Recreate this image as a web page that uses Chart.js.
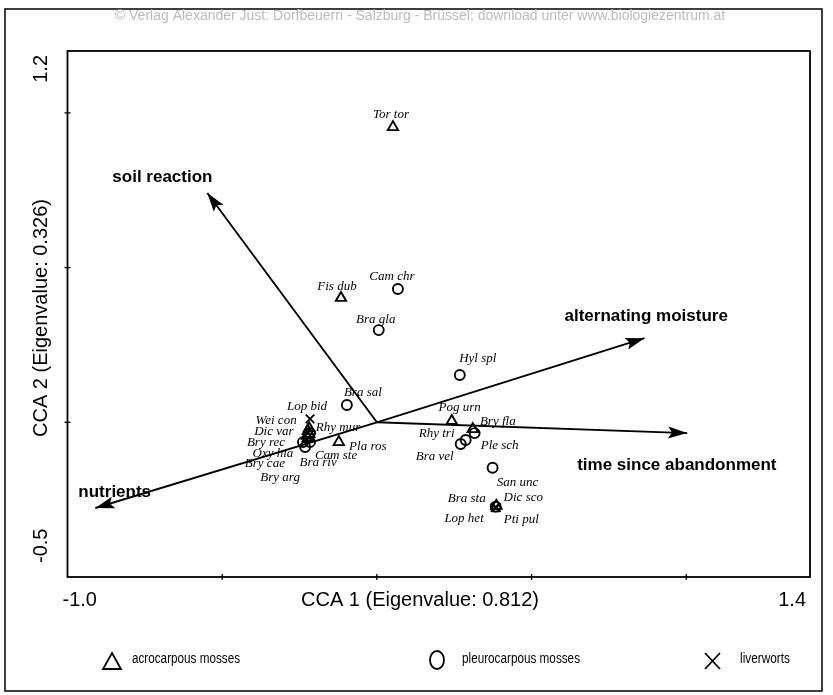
<!DOCTYPE html>
<html>
<head>
<meta charset="utf-8">
<script src="https://cdn.jsdelivr.net/npm/chart.js@4.4.1/dist/chart.umd.min.js"></script>
<style>
  html, body { margin: 0; padding: 0; background: #fff; }
  #wrap { width: 833px; height: 695px; position: relative; }
</style>
</head>
<body>
<div id="wrap"><canvas id="cca"></canvas></div>
<script>
// Species scores on CCA axes 1 and 2, by growth form
const acroNames = ['Tor tor', 'Fis dub', 'Pog urn', 'Bry fla', 'Dic sco', 'Wei con', 'Dic var', 'Bry rec', 'Bry cae', 'Bry arg', 'Pla ros'];
const acroX = [0.052, -0.116, 0.242, 0.310, 0.386, -0.219, -0.223, -0.226, -0.223, -0.219, -0.123];
const acroY = [0.954, 0.402, 0.004, -0.022, -0.270, -0.019, -0.028, -0.044, -0.051, -0.038, -0.064];

const pleuroNames = ['Cam chr', 'Bra gla', 'Bra sal', 'Hyl spl', 'Ple sch', 'Rhy tri', 'Bra vel', 'San unc', 'Bra sta', 'Rhy mur', 'Oxy hia', 'Cam ste', 'Bra riv'];
const pleuroX = [0.068, 0.006, -0.097, 0.268, 0.316, 0.287, 0.271, 0.374, 0.384, -0.216, -0.239, -0.216, -0.232];
const pleuroY = [0.431, 0.298, 0.056, 0.153, -0.035, -0.057, -0.070, -0.147, -0.273, -0.035, -0.064, -0.064, -0.080];

const liverNames = ['Lop bid', 'Lop het', 'Pti pul'];
const liverX = [-0.216, 0.382, 0.386];
const liverY = [0.011, -0.276, -0.276];

// Environmental variables (biplot arrows)
const envNames = ['soil reaction', 'alternating moisture', 'time since abandonment', 'nutrients'];
const envX = [-0.548, 0.865, 1.003, -0.910];
const envY = [0.741, 0.272, -0.035, -0.277];

// Axis extents and ticks
const xRange = [-1.0, 1.4];
const yRange = [-0.5, 1.2];
const xTicks = [-0.5, 0.0, 0.5, 1.0];
const yTicks = [0.0, 0.5, 1.0];
const xTickLabels = ['-1.0', '1.4'];
const yTickLabels = ['-0.5', '1.2'];
const xTitle = 'CCA 1 (Eigenvalue: 0.812)';
const yTitle = 'CCA 2 (Eigenvalue: 0.326)';
const legendLabels = ['acrocarpous mosses', 'pleurocarpous mosses', 'liverworts'];
const credit = '\u00A9 Verlag Alexander Just: Dorfbeuern - Salzburg - Br\u00FCssel; download unter www.biologiezentrum.at';

// Label placement (pixel offsets from each point; arrow names are left-aligned from the tip)
const labelOffset = {
  'Tor tor': [-2, -13], 'Fis dub': [-4, -11], 'Cam chr': [-6, -12], 'Bra gla': [-3, -11],
  'Bra sal': [16, -12], 'Hyl spl': [18, -16], 'Pog urn': [8, -13], 'Bry fla': [25, -8],
  'Ple sch': [25, 12], 'Rhy tri': [-29, -6], 'Bra vel': [-26, 13], 'San unc': [25, 15],
  'Bra sta': [-29, -8], 'Dic sco': [27, -8], 'Lop het': [-31, 11], 'Pti pul': [25, 12],
  'Lop bid': [-3, -12], 'Wei con': [-33, -8], 'Rhy mur': [28, -6], 'Dic var': [-34, 1],
  'Bry rec': [-41, 7], 'Oxy hia': [-30, 11], 'Bry cae': [-43, 26], 'Bry arg': [-29, 44],
  'Cam ste': [26, 13], 'Bra riv': [13, 16], 'Pla ros': [29, 4]
};
const envOffset = {
  'soil reaction': [-95, -16], 'alternating moisture': [-80, -22],
  'time since abandonment': [-110, 32], 'nutrients': [-17, -16]
};

const pts = (names, xs, ys) => names.map((n, i) => ({ x: xs[i], y: ys[i], name: n }));

const arrowSets = envNames.map((n, i) => ({
  type: 'line',
  label: n,
  data: [{ x: 0, y: 0 }, { x: envX[i], y: envY[i], name: n }],
  showLine: true,
  borderColor: '#000',
  borderWidth: 1.9,
  pointRadius: 0,
  fill: false,
  order: 5
}));

const markerCommon = { borderColor: '#000', backgroundColor: 'rgba(0,0,0,0)', borderWidth: 1.9 };

// Axis box, ticks, tick labels, titles, text labels, arrowheads and legend
const decor = {
  id: 'decor',
  afterDatasetsDraw(chart) {
    const { ctx, chartArea: a, scales: { x, y } } = chart;
    ctx.save();

    // outer frame
    ctx.strokeStyle = '#000';
    ctx.lineWidth = 1.5;
    ctx.strokeRect(5, 9, 817, 682);

    // credit line
    ctx.fillStyle = '#bcbcbc';
    ctx.font = '14px "Liberation Sans", Arial, sans-serif';
    ctx.textAlign = 'center';
    ctx.textBaseline = 'middle';
    ctx.fillText(credit, 420, 16);

    // axis box
    ctx.strokeStyle = '#000';
    ctx.lineWidth = 1.8;
    ctx.strokeRect(a.left, a.top, a.right - a.left, a.bottom - a.top);

    // ticks crossing the axes
    ctx.lineWidth = 1.3;
    xTicks.forEach(v => {
      const px = x.getPixelForValue(v);
      ctx.beginPath(); ctx.moveTo(px, a.bottom - 3); ctx.lineTo(px, a.bottom + 3); ctx.stroke();
    });
    yTicks.forEach(v => {
      const py = y.getPixelForValue(v);
      ctx.beginPath(); ctx.moveTo(a.left - 3, py); ctx.lineTo(a.left + 3, py); ctx.stroke();
    });

    // tick labels at the axis ends
    ctx.fillStyle = '#000';
    ctx.font = '20px "Liberation Sans", Arial, sans-serif';
    ctx.textBaseline = 'top';
    ctx.textAlign = 'left';
    ctx.fillText(xTickLabels[0], x.getPixelForValue(xRange[0]) - 5, a.bottom + 13);
    ctx.textAlign = 'right';
    ctx.fillText(xTickLabels[1], x.getPixelForValue(xRange[1]) - 4, a.bottom + 13);
    ctx.textAlign = 'center';
    ctx.fillText(xTitle, 420, a.bottom + 13);

    ctx.save();
    ctx.translate(41, 0);
    ctx.rotate(-Math.PI / 2);
    ctx.textBaseline = 'middle';
    ctx.textAlign = 'left';
    ctx.fillText(yTickLabels[0], -y.getPixelForValue(yRange[0]) + 14, 0);
    ctx.textAlign = 'right';
    ctx.fillText(yTickLabels[1], -y.getPixelForValue(yRange[1]) - 4, 0);
    ctx.textAlign = 'center';
    ctx.fillText(yTitle, -318, 0);
    ctx.restore();

    // arrowheads and variable names
    ctx.font = 'bold 17px "Liberation Sans", Arial, sans-serif';
    ctx.textAlign = 'left';
    ctx.textBaseline = 'middle';
    envNames.forEach((n, i) => {
      const x0 = x.getPixelForValue(0), y0 = y.getPixelForValue(0);
      const x1 = x.getPixelForValue(envX[i]), y1 = y.getPixelForValue(envY[i]);
      const ang = Math.atan2(y1 - y0, x1 - x0);
      const L = 19, W = 6;
      ctx.beginPath();
      ctx.moveTo(x1, y1);
      ctx.lineTo(x1 - L * Math.cos(ang) + W * Math.sin(ang), y1 - L * Math.sin(ang) - W * Math.cos(ang));
      ctx.lineTo(x1 - L * 0.8 * Math.cos(ang), y1 - L * 0.8 * Math.sin(ang));
      ctx.lineTo(x1 - L * Math.cos(ang) - W * Math.sin(ang), y1 - L * Math.sin(ang) + W * Math.cos(ang));
      ctx.closePath();
      ctx.fill();
      const o = envOffset[n];
      ctx.fillText(n, x1 + o[0], y1 + o[1]);
    });

    // species labels
    ctx.font = 'italic 13px "Liberation Serif", "Times New Roman", serif';
    ctx.textAlign = 'center';
    chart.data.datasets.forEach(ds => {
      if (ds.type === 'line') return;
      ds.data.forEach(p => {
        const o = labelOffset[p.name] || [0, -12];
        ctx.fillText(p.name, x.getPixelForValue(p.x) + o[0], y.getPixelForValue(p.y) + o[1]);
      });
    });

    // legend (condensed text)
    const ly = 661;
    ctx.lineWidth = 1.8;
    ctx.beginPath();
    ctx.moveTo(112, ly - 8); ctx.lineTo(121, ly + 8); ctx.lineTo(103, ly + 8); ctx.closePath();
    ctx.stroke();
    ctx.beginPath();
    ctx.ellipse(437, ly - 1, 7, 9, 0, 0, Math.PI * 2);
    ctx.stroke();
    ctx.beginPath();
    ctx.moveTo(705, ly - 8); ctx.lineTo(720, ly + 8);
    ctx.moveTo(720, ly - 8); ctx.lineTo(705, ly + 8);
    ctx.stroke();
    ctx.font = '14px "Liberation Sans", Arial, sans-serif';
    ctx.textAlign = 'left';
    ctx.fillText(legendLabels[0], 132, ly - 2, 108);
    ctx.fillText(legendLabels[1], 462, ly - 2, 118);
    ctx.fillText(legendLabels[2], 740, ly - 2, 50);

    ctx.restore();
  }
};

new Chart(document.getElementById('cca'), {
  type: 'scatter',
  data: {
    datasets: [
      ...arrowSets,
      { label: legendLabels[0], data: pts(acroNames, acroX, acroY), pointStyle: 'triangle', pointRadius: 6, ...markerCommon, order: 1 },
      { label: legendLabels[1], data: pts(pleuroNames, pleuroX, pleuroY), pointStyle: 'circle', pointRadius: 5, ...markerCommon, order: 2 },
      { label: legendLabels[2], data: pts(liverNames, liverX, liverY), pointStyle: 'crossRot', pointRadius: 6, ...markerCommon, order: 3 }
    ]
  },
  options: {
    responsive: true,
    maintainAspectRatio: false,
    animation: false,
    layout: { padding: { left: 67.5, top: 51, right: 23, bottom: 118 } },
    plugins: { legend: { display: false }, tooltip: { enabled: false } },
    scales: {
      x: { type: 'linear', min: xRange[0], max: xRange[1], display: false },
      y: { type: 'linear', min: yRange[0], max: yRange[1], display: false }
    },
    elements: { point: { hoverRadius: 6 } }
  },
  plugins: [decor]
});
</script>
</body>
</html>
